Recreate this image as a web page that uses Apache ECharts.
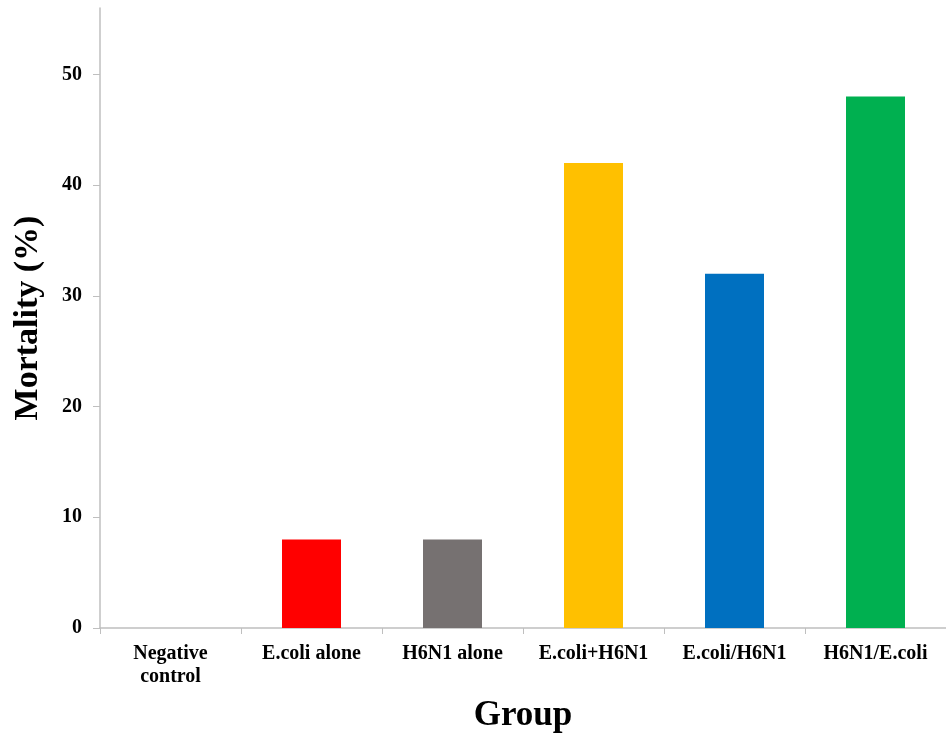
<!DOCTYPE html>
<html><head><meta charset="utf-8">
<script src="https://cdn.jsdelivr.net/npm/echarts@6/dist/echarts.min.js"></script>
<style>html,body{margin:0;padding:0;background:#fff}#c{width:946px;height:738px}</style>
</head><body><div id="c"></div>
<script>
const categories = ['Negative\ncontrol', 'E.coli alone', 'H6N1 alone', 'E.coli+H6N1', 'E.coli/H6N1', 'H6N1/E.coli'];
const mortality = [0, 8, 8, 42, 32, 48];
const barColors = ['#a5a5a5', '#ff0000', '#767171', '#ffc000', '#0070c0', '#00b050'];
const yTicks = [0, 10, 20, 30, 40, 50];

const chart = echarts.init(document.getElementById('c'));
const font = '"Liberation Serif", "Times New Roman", serif';
chart.setOption({
  animation: false,
  grid: { left: 100, top: 8, width: 852, height: 622, containLabel: false },
  xAxis: {
    type: 'category', data: categories,
    name: 'Group', nameLocation: 'middle', nameGap: 70,
    nameTextStyle: { fontFamily: font, fontWeight: 'bold', fontSize: 35, color: '#000' },
    axisLine: { lineStyle: { color: '#bfbfbf', width: 1.5 } },
    axisTick: { show: true, alignWithLabel: false, length: 6, lineStyle: { color: '#bfbfbf' } },
    axisLabel: { fontFamily: font, fontWeight: 'bold', fontSize: 20, color: '#000', margin: 14, lineHeight: 23, interval: 0 }
  },
  yAxis: {
    type: 'value', min: 0, max: 56, interval: 10,
    name: 'Mortality (%)', nameLocation: 'middle', nameGap: 55,
    nameTextStyle: { fontFamily: font, fontWeight: 'bold', fontSize: 34, color: '#000' },
    axisLine: { show: true, lineStyle: { color: '#bfbfbf', width: 1.5 } },
    axisTick: { show: true, length: 7, lineStyle: { color: '#bfbfbf' }, customValues: yTicks },
    axisLabel: { fontFamily: font, fontWeight: 'bold', fontSize: 20, color: '#000', margin: 18, customValues: yTicks },
    splitLine: { show: false }
  },
  series: [{
    type: 'bar', barWidth: 59,
    data: mortality.map((v, i) => ({ value: v, itemStyle: { color: barColors[i] } }))
  }]
});
</script></body></html>
